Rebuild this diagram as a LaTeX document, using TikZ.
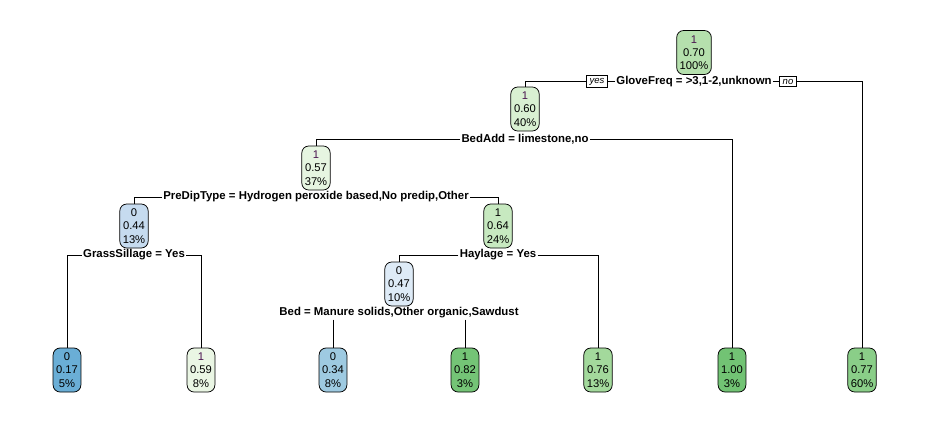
\documentclass[tikz,border=0pt]{standalone}
\usepackage{xcolor}
\usepackage{fontspec}
\setmainfont{Liberation Sans}
\usetikzlibrary{shapes.geometric}

\definecolor{cls}{HTML}{4A1450}
\definecolor{g70}{HTML}{B5E0AD}
\definecolor{g60}{HTML}{D9F0D2}
\definecolor{g57}{HTML}{E6F5E1}
\definecolor{g64}{HTML}{C7E9C0}
\definecolor{g59}{HTML}{EAF6E4}
\definecolor{g82}{HTML}{74C476}
\definecolor{g76}{HTML}{A3D99C}
\definecolor{g100}{HTML}{72C374}
\definecolor{g77}{HTML}{8ACE88}
\definecolor{b44}{HTML}{C6DBEF}
\definecolor{b47}{HTML}{DEEBF7}
\definecolor{b17}{HTML}{6AAED6}
\definecolor{b34}{HTML}{9ECAE1}

\tikzset{
	leaf/.style={draw, rounded corners=7pt, align=center, inner xsep=3pt, inner ysep=1pt,
		minimum height=44pt, font=\fontsize{11.2}{13.3}\selectfont},
	split/.style={fill=white, inner sep=1pt, font=\fontsize{11.4}{13}\selectfont\bfseries},
	yesno/.style={draw, fill=white, inner xsep=3pt, inner ysep=2.5pt, font=\fontsize{9.5}{10}\selectfont\itshape},
	elbow/.style={to path={-| (\tikztotarget)}}
}

\begin{document}
\begin{tikzpicture}[x=1pt, y=-1pt, line width=0.75pt]
	\useasboundingbox (0,0) rectangle (932,424);

	\begin{scope}[every node/.style={leaf}]
		\node[fill=g70] (n1) at (694,52.5) {\textcolor{cls}{1}\\0.70\\100\%};
		\node[fill=g60] (n2) at (525,109) {\textcolor{cls}{1}\\0.60\\40\%};
		\node[fill=g57] (n4) at (316,168) {\textcolor{cls}{1}\\0.57\\37\%};
		\node[fill=b44] (n8) at (134,226) {0\\0.44\\13\%};
		\node[fill=g64] (n9) at (498,226) {1\\0.64\\24\%};
		\node[fill=b47] (n18) at (399,284) {0\\0.47\\10\%};

		\node[fill=b17] (n16) at (67,370) {0\\0.17\\5\%};
		\node[fill=g59] (n17) at (201,370) {\textcolor{cls}{1}\\0.59\\8\%};
		\node[fill=b34] (n36) at (333,370) {0\\0.34\\8\%};
		\node[fill=g82] (n37) at (465,370) {1\\0.82\\3\%};
		\node[fill=g76] (n19) at (598,370) {1\\0.76\\13\%};
		\node[fill=g100] (n5) at (732,370) {1\\1.00\\3\%};
		\node[fill=g77] (n3) at (862,370) {1\\0.77\\60\%};
	\end{scope}

	\begin{scope}[every node/.style={split}]
		\node (glove) at (694,81.5) {GloveFreq = >3,1-2,unknown};
		\node (bedadd) at (525,139) {BedAdd = limestone,no};
		\node (predip) at (316,197) {PreDipType = Hydrogen peroxide based,No predip,Other};
		\node (grass) at (134,255) {GrassSillage = Yes};
		\node (haylage) at (498,255) {Haylage = Yes};
		\node (bed) at (399,313) {Bed = Manure solids,Other organic,Sawdust};
	\end{scope}

	\node[yesno] (yes) at (597,81.5) {yes};
	\node[yesno] (no) at (788,81.5) {no};

	\begin{scope}
		\path (glove.west) edge (yes.east);
		\path (yes.west) edge[elbow] (n2);
		\path (glove.east) edge (no.west);
		\path (no.east) edge[elbow] (n3);

		\path (bedadd.west) edge[elbow] (n4);
		\path (bedadd.east) edge[elbow] (n5);

		\path (predip.west) edge[elbow] (n8);
		\path (predip.east) edge[elbow] (n9);

		\path (grass.west) edge[elbow] (n16);
		\path (grass.east) edge[elbow] (n17);

		\path (haylage.west) edge[elbow] (n18);
		\path (haylage.east) edge[elbow] (n19);

		\path (bed.south -| n36) edge (n36);
		\path (bed.south -| n37) edge (n37);
	\end{scope}
\end{tikzpicture}
\end{document}
